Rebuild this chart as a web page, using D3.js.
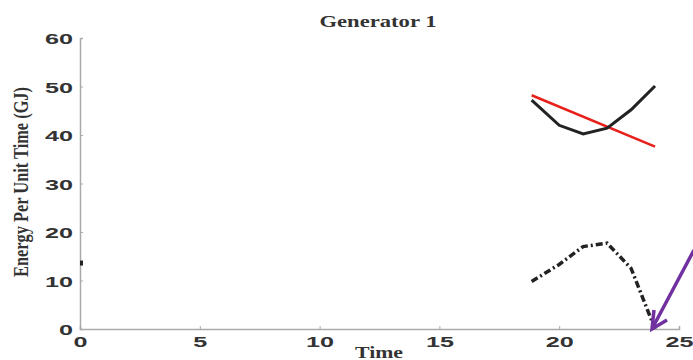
<!DOCTYPE html>
<html>
<head>
<meta charset="utf-8">
<script src="https://cdn.jsdelivr.net/npm/d3@7"></script>
<style>
body { margin: 0; background: #fff; }
</style>
</head>
<body>
<svg width="693" height="360"></svg>
<script>
var hours = [18.85, 20, 21, 22, 23, 24],
    solidVals = [47.2, 42, 40.2, 41.4, 45.2, 50.1],
    dashVals = [9.8, 13.3, 17, 17.7, 12.5, 0];
var redHours = [18.85, 24],
    redVals = [48.2, 37.6];
var dotPoint = [0, 13.6];
var xTicks = [0, 5, 10, 15, 20, 25],
    yTicks = [0, 10, 20, 30, 40, 50, 60];

var svg = d3.select("svg"),
    width = 693,
    height = 360;

var x = d3.scaleLinear().domain([0, 25]).range([80, 679]),
    y = d3.scaleLinear().domain([0, 60]).range([329, 38]);

var xAxis = svg.append("g")
    .attr("transform", "translate(0," + y(0) + ")")
    .call(d3.axisBottom(x).tickValues(xTicks).tickSize(-3).tickPadding(8).tickFormat(d3.format("d")));
var yAxis = svg.append("g")
    .attr("transform", "translate(" + x(0) + ",0)")
    .call(d3.axisLeft(y).tickValues(yTicks).tickSize(-3).tickPadding(7).tickFormat(d3.format("d")));

// the tick font in the picture is very wide, so stretch the glyphs
[xAxis, yAxis].forEach(function(a) {
  a.select(".domain").attr("stroke", "#aaa").attr("stroke-width", 1.5);
  a.selectAll(".tick line").attr("stroke", "#aaa");
  a.selectAll("text")
    .attr("fill", "#333")
    .attr("textLength", function(d) { return String(d).length * 14; })
    .attr("lengthAdjust", "spacingAndGlyphs")
    .style("font-family", "Liberation Sans, Arial, sans-serif")
    .style("font-weight", "bold")
    .style("font-size", "15.5px");
});
xAxis.selectAll("text").attr("dy", "0.62em");
yAxis.selectAll("text").attr("dy", "0.36em");

var line = d3.line()
    .x(function(d) { return x(d[0]); })
    .y(function(d) { return y(d[1]); });

svg.append("path")
    .datum(d3.zip(redHours, redVals))
    .attr("d", line)
    .attr("fill", "none")
    .attr("stroke", "#e8201c")
    .attr("stroke-width", 2.5);

svg.append("path")
    .datum(d3.zip(hours, solidVals))
    .attr("d", line)
    .attr("fill", "none")
    .attr("stroke", "#222")
    .attr("stroke-width", 3);

svg.append("path")
    .datum(d3.zip(hours, dashVals))
    .attr("d", line)
    .attr("fill", "none")
    .attr("stroke", "#222")
    .attr("stroke-width", 3.5)
    .attr("stroke-dasharray", "7,3,2,3");

// small leftover mark on the y axis
svg.append("rect")
    .attr("x", x(dotPoint[0]))
    .attr("y", y(dotPoint[1]) - 2.5)
    .attr("width", 3)
    .attr("height", 5)
    .attr("fill", "#222");

svg.append("text")
    .attr("x", 378)
    .attr("y", 27)
    .attr("text-anchor", "middle")
    .attr("textLength", 117)
    .attr("lengthAdjust", "spacingAndGlyphs")
    .style("font-family", "Liberation Serif, Times New Roman, serif")
    .style("font-weight", "bold")
    .style("font-size", "16px")
    .attr("fill", "#333")
    .text("Generator 1");

svg.append("text")
    .attr("x", 379)
    .attr("y", 358)
    .attr("text-anchor", "middle")
    .attr("textLength", 48)
    .attr("lengthAdjust", "spacingAndGlyphs")
    .style("font-family", "Liberation Serif, Times New Roman, serif")
    .style("font-weight", "bold")
    .style("font-size", "16px")
    .attr("fill", "#333")
    .text("Time");

svg.append("text")
    .attr("transform", "translate(28,182) rotate(-90)")
    .attr("text-anchor", "middle")
    .attr("textLength", 190)
    .attr("lengthAdjust", "spacingAndGlyphs")
    .style("font-family", "Liberation Serif, Times New Roman, serif")
    .style("font-weight", "bold")
    .style("font-size", "21px")
    .attr("fill", "#333")
    .text("Energy Per Unit Time (GJ)");

// purple annotation arrow
var purple = "#7030a0";
svg.append("line")
    .attr("x1", 694).attr("y1", 250)
    .attr("x2", 653).attr("y2", 327)
    .attr("stroke", purple).attr("stroke-width", 3.5);
svg.append("path")
    .attr("d", "M654,310 L652,329 L667,320")
    .attr("fill", "none")
    .attr("stroke", purple)
    .attr("stroke-width", 3.5)
    .attr("stroke-linejoin", "miter");
</script>
</body>
</html>
